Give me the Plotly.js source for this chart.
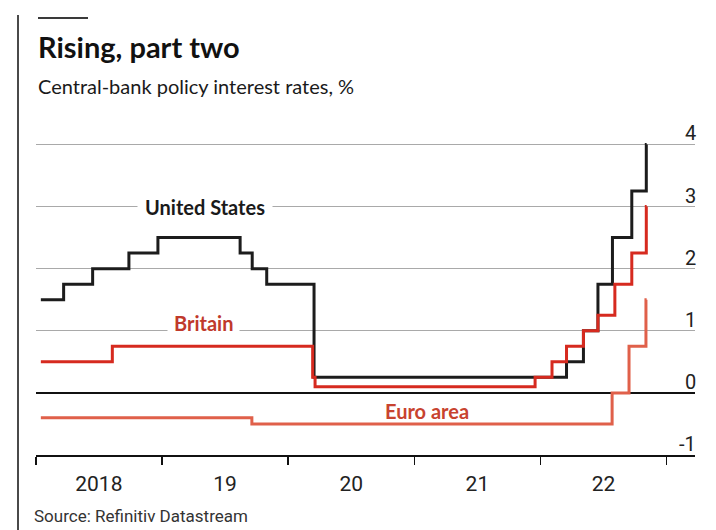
<!DOCTYPE html>
<html>
<head>
<meta charset="utf-8">
<script src="https://cdn.plot.ly/plotly-3.0.1.min.js"></script>
<style>
  html, body { margin: 0; padding: 0; background: #ffffff; }
  #wrap { position: relative; width: 716px; height: 530px; }
  #chart { width: 716px; height: 530px; }
  .rule-v { position: absolute; left: 17px; top: 15px; width: 2px; height: 515px; background: #4a4a4a; }
  .rule-h { position: absolute; left: 38px; top: 17px; width: 50px; height: 2px; background: #3a3a3a; }
</style>
</head>
<body>
<div id="wrap">
  <div id="chart"></div>
  <div class="rule-v"></div>
  <div class="rule-h"></div>
</div>
<script>
// Policy rates, % (step changes; each value holds until the next date)
const usDates = ['2018-01-15','2018-03-22','2018-06-14','2018-09-27','2018-12-20',
  '2019-08-15','2019-09-19','2019-10-31','2020-03-16','2022-03-17','2022-05-05',
  '2022-06-16','2022-07-28','2022-09-22','2022-11-03','2022-11-04'];
const usRates = [1.5,1.75,2.0,2.25,2.5,2.25,2.0,1.75,0.25,0.5,1.0,1.75,2.5,3.25,4.0,4.0];

const ukDates = ['2018-01-15','2018-08-10','2020-03-12','2020-03-19','2021-12-16',
  '2022-02-03','2022-03-17','2022-05-05','2022-06-16','2022-08-04','2022-09-22',
  '2022-11-03','2022-11-04'];
const ukRates = [0.5,0.75,0.25,0.1,0.25,0.5,0.75,1.0,1.25,1.75,2.25,3.0,3.0];

const euDates = ['2018-01-15','2019-09-18','2022-07-27','2022-09-14','2022-11-02','2022-11-04'];
const euRates = [-0.4,-0.5,0.0,0.75,1.5,1.5];

// Axis labelling
const yearTicks = ['2018-01-01','2019-01-01','2020-01-01','2021-01-01','2022-01-01','2023-01-01'];
const yearLabelPos = ['2018-07-02','2019-07-02','2020-07-02','2021-07-02','2022-07-02'];
const yearLabels = ['2018','19','20','21','22'];
const yTicks = [-1,0,1,2,3,4];

const xRange = ['2018-01-01','2023-03-24'];
const narrow = 'Roboto, "Open Sans", sans-serif';
const sans = 'Lato, "Open Sans", sans-serif';

const black = '#1c1c1c', ukRed = '#d62a1f', euRed = '#e0604a';

const traces = [
  {x: euDates, y: euRates, mode: 'lines', line: {shape: 'hv', color: euRed, width: 3}, hoverinfo: 'skip'},
  {x: usDates, y: usRates, mode: 'lines', line: {shape: 'hv', color: black, width: 3}, hoverinfo: 'skip'},
  {x: ukDates, y: ukRates, mode: 'lines', line: {shape: 'hv', color: ukRed, width: 3}, hoverinfo: 'skip'},
  // carrier for the year-label axis
  {x: usDates, y: usRates, xaxis: 'x2', mode: 'lines', line: {width: 0}, opacity: 0, hoverinfo: 'skip'}
];

const annotations = [
  {xref: 'paper', yref: 'paper', x: 0, xshift: 0, y: 1, yshift: 66, xanchor: 'left', yanchor: 'bottom',
   text: '<b>Rising, part two</b>', showarrow: false, font: {family: sans, size: 29, color: '#111'}},
  {xref: 'paper', yref: 'paper', x: 0, xshift: 0, y: 1, yshift: 32, xanchor: 'left', yanchor: 'bottom',
   text: 'Central-bank policy interest rates, %', showarrow: false, font: {family: sans, size: 20, color: '#1a1a1a'}},
  {xref: 'paper', yref: 'paper', x: 0, xshift: -4, y: 0, yshift: -49, xanchor: 'left', yanchor: 'top',
   text: 'Source: Refinitiv Datastream', showarrow: false, font: {family: narrow, size: 17, color: '#333'}},
  {x: '2019-05-05', y: 3.0, text: '<b>United States</b>', showarrow: false, bgcolor: '#ffffff', borderpad: 7,
   font: {family: sans, size: 20, color: '#1a1a1a'}},
  {x: '2019-05-01', y: 1.12, text: '<b>Britain</b>', showarrow: false, bgcolor: '#ffffff', borderpad: 6,
   font: {family: sans, size: 20, color: '#c0392b'}},
  {x: '2021-02-06', y: -0.29, text: '<b>Euro area</b>', showarrow: false,
   font: {family: sans, size: 20, color: '#c8432f'}}
];

// right-hand value labels sitting on top of each gridline
yTicks.forEach(v => {
  annotations.push({xref: 'paper', x: 1, xshift: 3, y: v, yshift: -3, xanchor: 'right', yanchor: 'bottom',
    text: (v < 0 ? '-' + Math.abs(v) : String(v)), showarrow: false,
    font: {family: narrow, size: 20, color: '#222'}});
});

const layout = {
  width: 716, height: 530,
  margin: {l: 36, r: 21, t: 132, b: 75},
  paper_bgcolor: '#ffffff', plot_bgcolor: '#ffffff',
  showlegend: false,
  xaxis: {
    type: 'date', range: xRange, tickmode: 'array', tickvals: yearTicks,
    showticklabels: false, ticks: 'outside', ticklen: 8, tickwidth: 1.5, tickcolor: '#111',
    showgrid: false, zeroline: false, showline: true, linecolor: '#111', linewidth: 2,
    fixedrange: true
  },
  xaxis2: {
    type: 'date', range: xRange, overlaying: 'x', anchor: 'y', side: 'bottom',
    tickmode: 'array', tickvals: yearLabelPos, ticktext: yearLabels,
    ticks: '', showgrid: false, zeroline: false, showline: false,
    ticklabelstandoff: 14,
    tickfont: {family: narrow, size: 21, color: '#222'}, fixedrange: true
  },
  yaxis: {
    range: [-1, 4.2], tickmode: 'array', tickvals: [1, 2, 3, 4],
    showticklabels: false, ticks: '',
    showgrid: true, gridcolor: '#a9a9a9', gridwidth: 1,
    zeroline: true, zerolinecolor: '#111', zerolinewidth: 1.5,
    showline: false, fixedrange: true
  },
  annotations: annotations
};

Plotly.newPlot('chart', traces, layout, {displayModeBar: false, staticPlot: true});
</script>
</body>
</html>
